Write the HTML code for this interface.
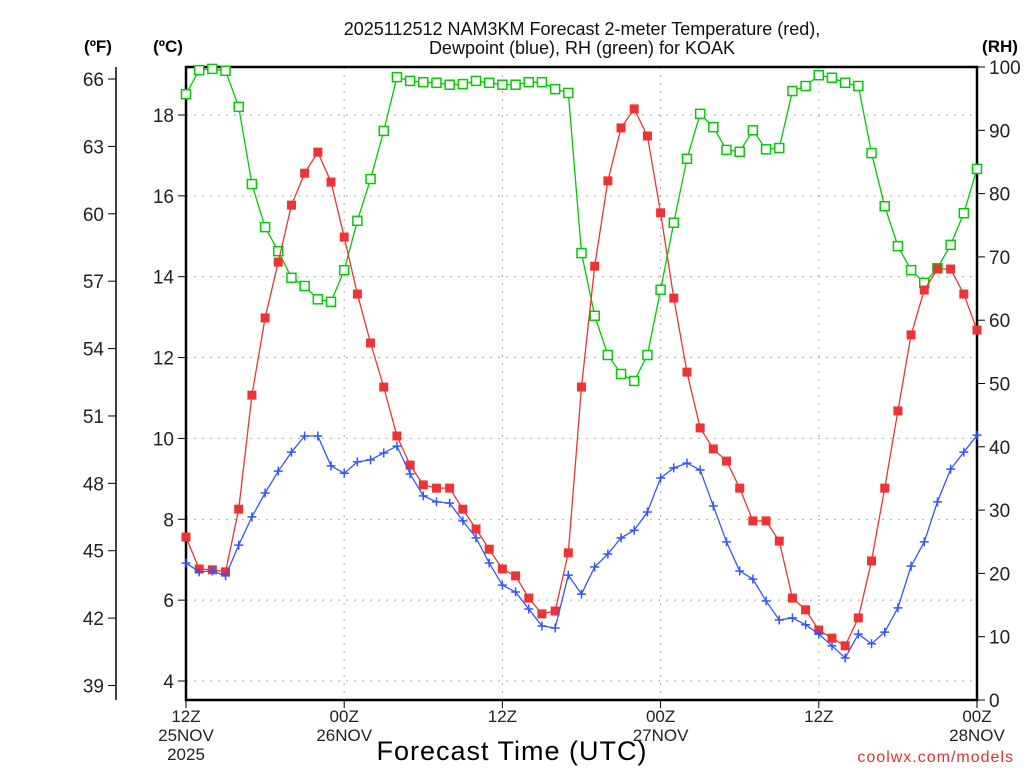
<!DOCTYPE html>
<html><head><meta charset="utf-8"><style>
body{margin:0;background:#fff;width:1024px;height:768px;overflow:hidden}
svg{display:block;font-family:"Liberation Sans",sans-serif}
</style></head><body>
<svg id="chart" width="1024" height="768" viewBox="0 0 1024 768"></svg>
<script>
const hours = Array.from({length:61},(_,i)=>i);
const tempC = [7.56,6.77,6.75,6.70,8.25,11.07,12.98,14.36,15.77,16.56,17.08,16.34,14.98,13.57,12.36,11.27,10.06,9.34,8.85,8.77,8.77,8.25,7.76,7.26,6.77,6.60,6.05,5.66,5.73,7.17,11.27,14.26,16.37,17.68,18.15,17.48,15.58,13.47,11.64,10.26,9.74,9.44,8.77,7.96,7.96,7.46,6.05,5.76,5.26,5.06,4.87,5.56,6.97,8.77,10.68,12.56,13.67,14.19,14.19,13.57,12.68];
const dewC = [6.92,6.70,6.72,6.60,7.36,8.06,8.65,9.19,9.66,10.06,10.06,9.32,9.14,9.42,9.47,9.64,9.81,9.12,8.58,8.43,8.40,7.96,7.54,6.92,6.37,6.20,5.78,5.36,5.31,6.62,6.15,6.82,7.14,7.54,7.73,8.18,9.02,9.27,9.39,9.22,8.33,7.44,6.72,6.52,5.98,5.51,5.56,5.39,5.16,4.87,4.57,5.16,4.92,5.21,5.81,6.84,7.44,8.43,9.24,9.66,10.08];
const rh = [95.7,99.5,99.7,99.4,93.7,81.5,74.7,70.9,66.7,65.4,63.3,62.9,67.9,75.7,82.3,89.9,98.4,97.8,97.6,97.5,97.2,97.3,97.8,97.5,97.2,97.2,97.6,97.6,96.5,95.9,70.6,60.7,54.5,51.5,50.4,54.5,64.8,75.4,85.5,92.6,90.5,86.9,86.6,90.0,87.0,87.2,96.2,97.0,98.7,98.3,97.5,97.0,86.4,78.0,71.7,67.9,65.9,68.2,71.9,76.9,83.9];
const cTicks = [4,6,8,10,12,14,16,18];
const fTicks = [39,42,45,48,51,54,57,60,63,66];
const rhTicks = [0,10,20,30,40,50,60,70,80,90,100];
const xTickHours = [0,12,24,36,48,60];
const xTickLabels = [["12Z","25NOV","2025"],["00Z","26NOV"],["12Z"],["00Z","27NOV"],["12Z"],["00Z","28NOV"]];

const L=186,R=977,T=67,B=700;
const X=h=>L+(R-L)*h/60;
const YC=c=>681-(c-4)*40.43;
const YF=f=>YC((f-32)/1.8);
const YR=r=>B-(B-T)*r/100;
const svg=document.getElementById('chart');
const NS='http://www.w3.org/2000/svg';
function mk(tag,attrs,parent){const e=document.createElementNS(NS,tag);for(const k in attrs)e.setAttribute(k,attrs[k]);(parent||svg).appendChild(e);return e;}
function txt(s,attrs,parent){const e=mk('text',attrs,parent);e.textContent=s;return e;}

// grid
const grid=mk('g',{});


cTicks.forEach(c=>mk('line',{x1:L,x2:R,y1:YC(c),y2:YC(c),stroke:'#aaa','stroke-dasharray':'2,6'},grid));
xTickHours.slice(1,-1).forEach(h=>mk('line',{x1:X(h),x2:X(h),y1:T,y2:B,stroke:'#aaa','stroke-dasharray':'2,6'},grid));

// plot frame
const frame=mk('rect',{x:L,y:T,width:R-L,height:B-T,fill:'none',stroke:'#000','stroke-width':2.5});



// C axis
const cAx=mk('g',{});


cTicks.forEach(c=>{mk('line',{x1:L-8,x2:L,y1:YC(c),y2:YC(c),stroke:'#000'},cAx);txt(c,{x:L-12,y:YC(c)+7,'text-anchor':'end','font-size':19,fill:'#222'},cAx);});
// F axis
const fAx=mk('g',{});


mk('line',{x1:116,x2:116,y1:67,y2:700,stroke:'#000','stroke-width':1.5},fAx);
fTicks.forEach(f=>{mk('line',{x1:108,x2:116,y1:YF(f),y2:YF(f),stroke:'#000'},fAx);txt(f,{x:104,y:YF(f)+7,'text-anchor':'end','font-size':19,fill:'#222'},fAx);});
// RH axis
const rAx=mk('g',{});


rhTicks.forEach(r=>{mk('line',{x1:R,x2:R+8,y1:YR(r),y2:YR(r),stroke:'#000'},rAx);txt(r,{x:R+12,y:YR(r)+7,'font-size':19,fill:'#222'},rAx);});
// X axis
const xAx=mk('g',{});


xTickHours.forEach((h,i)=>{mk('line',{x1:X(h),x2:X(h),y1:B,y2:B+8,stroke:'#000'},xAx);
 xTickLabels[i].forEach((s,j)=>txt(s,{x:X(h),y:722+j*19,'text-anchor':'middle','font-size':17,fill:'#222'},xAx));});

// unit labels
[['(ºF)',98],['(ºC)',168],['(RH)',1000]].forEach(([s,x])=>{const t=txt(s,{x:x,y:52,'text-anchor':'middle','font-size':17,'font-weight':'bold'});});

// title
const ti=mk('g',{});


txt('2025112512 NAM3KM Forecast 2-meter Temperature (red),',{x:582,y:35,'text-anchor':'middle','font-size':18,fill:'#111'},ti);
txt('Dewpoint (blue), RH (green) for KOAK',{x:582,y:54,'text-anchor':'middle','font-size':18,fill:'#111'},ti);
const xt=txt('Forecast Time (UTC)',{x:512,y:760,'text-anchor':'middle','font-size':27,fill:'#000','letter-spacing':'1'});


const cr=txt('coolwx.com/models',{x:1014,y:762,'text-anchor':'end','font-size':16,fill:'#e83030','letter-spacing':'1'});



// series
function series(vals,yf,color,name,marker){
 const g=mk('g',{});
 
 
 mk('polyline',{points:vals.map((v,i)=>X(hours[i])+','+yf(v)).join(' '),fill:'none',stroke:color,'stroke-width':1.3},g);
 vals.forEach((v,i)=>{const x=X(hours[i]),y=yf(v);let m;
  if(marker==='fill')m=mk('rect',{x:x-4.5,y:y-4.5,width:9,height:9,fill:color},g);
  else if(marker==='open')m=mk('rect',{x:x-4.5,y:y-4.5,width:9,height:9,fill:'#fff',stroke:color,'stroke-width':1.5},g);
  else m=mk('path',{d:`M${x-4.5},${y}H${x+4.5}M${x},${y-4.5}V${y+4.5}`,stroke:color,'stroke-width':1.5},g);
  
  
 });
}
series(rh,YR,'#00cc00','rh-series','open');
series(tempC,YC,'#ee3333','temperature-series','fill');
series(dewC,YC,'#3355ff','dewpoint-series','plus');
</script>
</body></html>
